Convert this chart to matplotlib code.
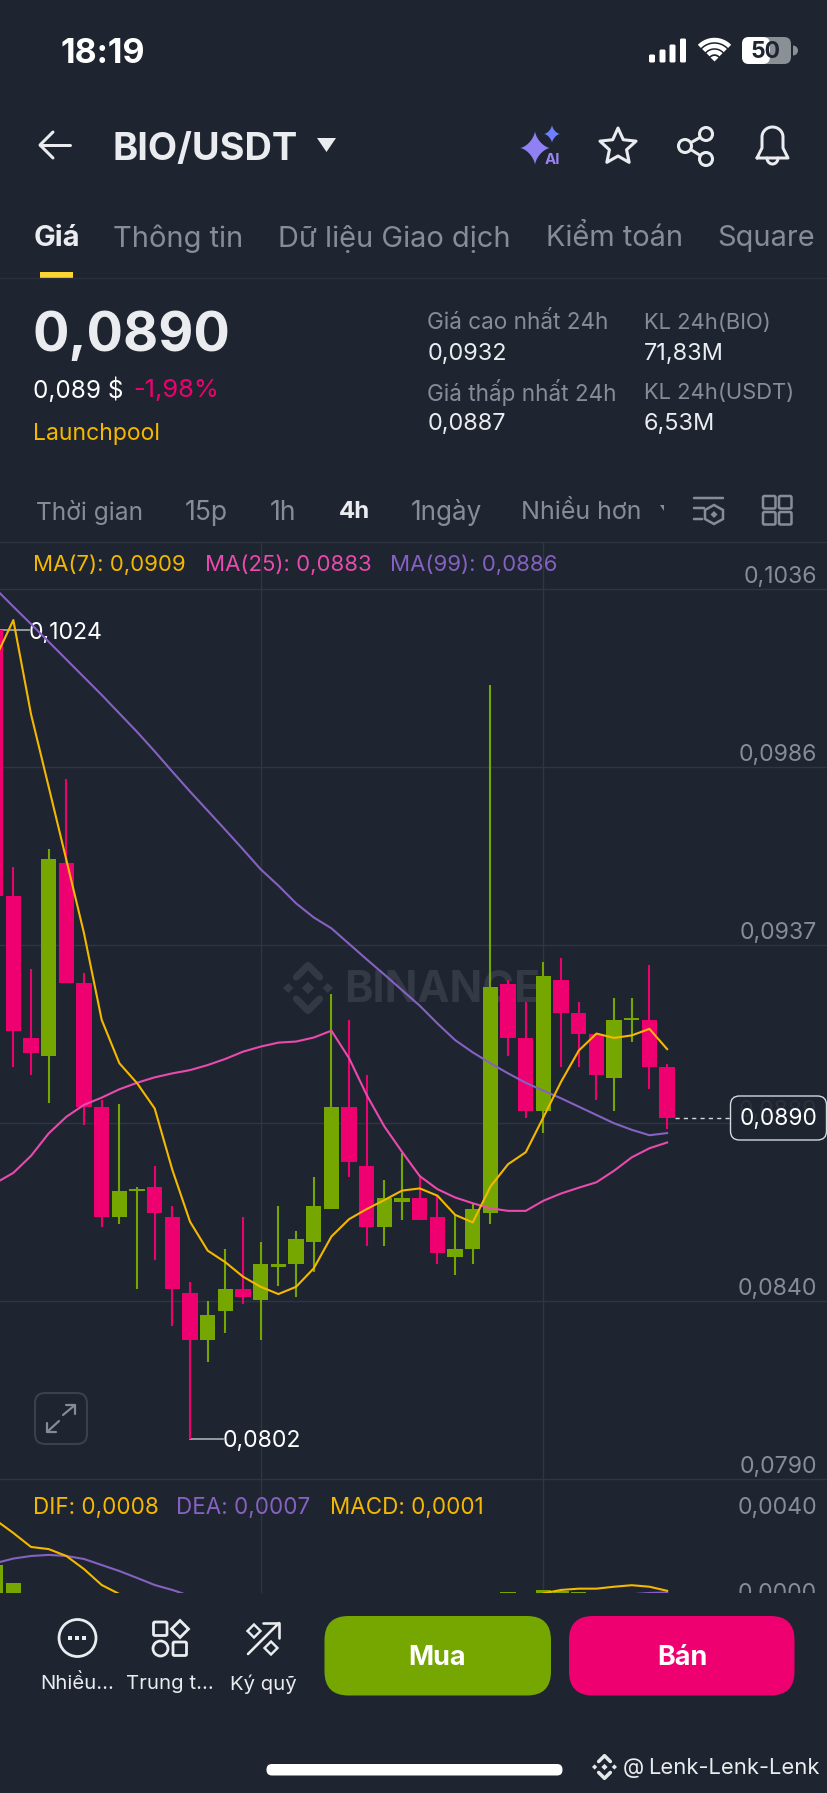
import numpy as np
import matplotlib
matplotlib.use("Agg")
import matplotlib.pyplot as plt
from matplotlib.patches import FancyBboxPatch, Polygon, Circle, Wedge

# candles, oldest first
opens = [0.10247, 0.09513, 0.09120, 0.09070, 0.09603, 0.09271, 0.08928, 0.08626, 0.08697, 0.08707,
         0.08626, 0.08414, 0.08285, 0.08364, 0.08425, 0.08395, 0.08486, 0.08496, 0.08556, 0.08647,
         0.08928, 0.08767, 0.08597, 0.08667, 0.08677, 0.08626, 0.08515, 0.08536, 0.08637, 0.09270,
         0.09120, 0.08918, 0.09280, 0.09190, 0.09130, 0.09009, 0.09170, 0.09170, 0.09039]
closes = [0.09513, 0.09140, 0.09079, 0.09614, 0.09271, 0.08928, 0.08626, 0.08696, 0.08702, 0.08637,
          0.08425, 0.08285, 0.08354, 0.08425, 0.08405, 0.08495, 0.08495, 0.08565, 0.08655, 0.08928,
          0.08778, 0.08597, 0.08677, 0.08677, 0.08617, 0.08526, 0.08536, 0.08646, 0.09260, 0.09120,
          0.08918, 0.09290, 0.09190, 0.09130, 0.09018, 0.09170, 0.09175, 0.09040, 0.08899]
highs = [0.10247, 0.09593, 0.09310, 0.09643, 0.09835, 0.09300, 0.08948, 0.08937, 0.08707, 0.08767,
         0.08655, 0.08445, 0.08394, 0.08536, 0.08626, 0.08555, 0.08655, 0.08585, 0.08736, 0.09241,
         0.09170, 0.09018, 0.08726, 0.08803, 0.08741, 0.08684, 0.08631, 0.08663, 0.10096, 0.09280,
         0.09219, 0.09331, 0.09341, 0.09219, 0.09130, 0.09230, 0.09230, 0.09321, 0.09048]
lows = [0.09513, 0.09040, 0.09018, 0.08939, 0.09271, 0.08878, 0.08597, 0.08606, 0.08425, 0.08506,
        0.08324, 0.08012, 0.08223, 0.08304, 0.08385, 0.08284, 0.08435, 0.08405, 0.08474, 0.08647,
        0.08736, 0.08546, 0.08546, 0.08617, 0.08617, 0.08495, 0.08466, 0.08495, 0.08606, 0.09069,
        0.08898, 0.08858, 0.09040, 0.09040, 0.08948, 0.08918, 0.09110, 0.08979, 0.08868]

ma7 = [0.10171, 0.10275, 0.10015, 0.09814, 0.09612, 0.09409, 0.09170, 0.09050, 0.08995, 0.08925,
       0.08755, 0.08612, 0.08532, 0.08500, 0.08460, 0.08432, 0.08412, 0.08432, 0.08483, 0.08571,
       0.08619, 0.08647, 0.08672, 0.08698, 0.08704, 0.08684, 0.08631, 0.08610, 0.08709, 0.08771,
       0.08804, 0.08901, 0.08999, 0.09085, 0.09132, 0.09120, 0.09127, 0.09145, 0.09089]
ma25 = [0.08719, 0.08747, 0.08794, 0.08856, 0.08902, 0.08935, 0.08955, 0.08978, 0.08996, 0.09011,
        0.09022, 0.09031, 0.09045, 0.09062, 0.09082, 0.09096, 0.09107, 0.09110, 0.09121, 0.09140,
        0.09064, 0.08962, 0.08875, 0.08805, 0.08738, 0.08702, 0.08679, 0.08663, 0.08649, 0.08642,
        0.08642, 0.08670, 0.08690, 0.08706, 0.08721, 0.08753, 0.08790, 0.08815, 0.08831]
ma99 = [0.10361, 0.10312, 0.10264, 0.10215, 0.10166, 0.10117, 0.10068, 0.10017, 0.09966, 0.09912,
        0.09856, 0.09801, 0.09748, 0.09695, 0.09641, 0.09586, 0.09541, 0.09492, 0.09453, 0.09423,
        0.09380, 0.09337, 0.09295, 0.09252, 0.09209, 0.09160, 0.09114, 0.09080, 0.09050, 0.09022,
        0.08996, 0.08974, 0.08953, 0.08930, 0.08907, 0.08884, 0.08866, 0.08851, 0.08857]

price_grid = [0.1036, 0.09868, 0.09376, 0.08884, 0.08392, 0.0790]
price_labels = ["0,1036", "0,0986", "0,0937", "0,0889", "0,0840", "0,0790"]
grid_candles = [15, 31]

# MACD panel, only the part above the panel's cut-off edge is readable
dif_left_idx = [0, 1, 2, 3, 4, 5, 6, 7, 8]
dif_left = [0.00395, 0.00335, 0.00270, 0.00260, 0.00228, 0.00167, 0.00093, 0.00051, -0.00014]
dea_left_idx = [0, 1, 2, 3, 4, 5, 6, 7, 8, 9, 10, 11, 12]
dea_left = [0.00195, 0.00216, 0.00228, 0.00233, 0.00228, 0.00214, 0.00186, 0.00158, 0.00126, 0.00093,
            0.00070, 0.00042, 0.00010]
dif_right_idx = [30, 31, 32, 33, 34, 35, 36, 37, 38]
dif_right = [0.00023, 0.00054, 0.00070, 0.00076, 0.00076, 0.00085, 0.00092, 0.00085, 0.00066]
dea_right_idx = [36, 37, 38]
dea_right = [0.00050, 0.00056, 0.00058]
hist_idx = [0, 1, 29, 31, 32, 33]
hist_val = [0.00186, 0.00101, 0.00060, 0.00072, 0.00066, 0.00059]
macd_ticks = [0.0040, 0.0]
macd_labels = ["0,0040", "0,0000"]

BG = "#1e2530"
GRID = "#2f3641"
GREEN = "#75a700"
RED = "#ee0070"
YELLOW = "#f5b800"
PINK = "#ea4aae"
PURPLE = "#8661c1"
GRAY = "#868d98"
WHITE = "#eaecef"
FONT = ["Inter", "Noto Sans", "DejaVu Sans"]

plt.rcParams["font.family"] = FONT
W, H = 828, 1793
fig = plt.figure(figsize=(W / 100, H / 100), dpi=100, facecolor=BG)


def px_axes(zorder):
    a = fig.add_axes([0, 0, 1, 1], facecolor="none", zorder=zorder)
    a.set_xlim(0, W)
    a.set_ylim(H, 0)
    a.axis("off")
    return a


ui = px_axes(0)
top = px_axes(5)


def label(x, y, s, size, color=WHITE, weight="normal", ha="left", ax=None):
    # va="center" sits a bit high for this font, push it down in proportion
    (ax or ui).text(x, y + 0.1 * size, s, fontsize=size * 0.72, color=color, fontweight=weight, ha=ha, va="center")


def rbox(x0, y0, x1, y1, r, ax=None, **kw):
    p = FancyBboxPatch((x0, y0), x1 - x0, y1 - y0, boxstyle=f"round,pad=0,rounding_size={r}", **kw)
    (ax or ui).add_patch(p)


def pline(xs, ys, color, lw=2.5):
    ui.plot(xs, ys, color=color, lw=lw * 0.72, solid_capstyle="round", solid_joinstyle="round")


def diamond(cx, cy, r, color, fill=True, lw=2.5):
    ui.add_patch(Polygon([(cx, cy - r), (cx + r, cy), (cx, cy + r), (cx - r, cy)], closed=True,
                         facecolor=color if fill else "none", edgecolor=color, lw=0 if fill else lw * 0.72))


def bnb_logo(cx, cy, r, color):
    diamond(cx, cy, r * 0.24, color)
    diamond(cx - r * 0.76, cy, r * 0.2, color)
    diamond(cx + r * 0.76, cy, r * 0.2, color)
    lw = r * 0.27
    pline([cx - r * 0.45, cx, cx + r * 0.45], [cy - r * 0.42, cy - r * 0.87, cy - r * 0.42], color, lw)
    pline([cx - r * 0.45, cx, cx + r * 0.45], [cy + r * 0.42, cy + r * 0.87, cy + r * 0.42], color, lw)


def sparkle(cx, cy, rx, ry, color):
    t = np.linspace(0, 2 * np.pi, 81)
    c, s = np.cos(t), np.sin(t)
    ui.add_patch(Polygon(np.c_[cx + rx * np.sign(c) * np.abs(c) ** 3, cy + ry * np.sign(s) * np.abs(s) ** 3],
                         closed=True, facecolor=color, lw=0))


# ---- status bar
label(61, 50.5, "18:19", 34, "#ffffff", "bold")
for bx, bh in zip([649, 659.5, 669.5, 680], [8, 13, 18, 24]):
    rbox(bx, 62.5 - bh, bx + 6, 62.5, 1.5, facecolor="#ffffff", lw=0)
for r in [9, 15, 21]:
    t = np.radians(np.linspace(-46, 46, 30))
    ui.plot(714.5 + r * np.sin(t), 61 - r * np.cos(t), color="#ffffff", lw=3.2, solid_capstyle="butt")
ui.add_patch(Wedge((714.5, 61.5), 5.5, 225, 315, facecolor="#ffffff", lw=0))
rbox(742, 37, 791, 64, 7, facecolor="#8b9097", lw=0)
rbox(742, 37, 770, 64, 7, facecolor="#ffffff", lw=0)
ui.add_patch(Wedge((793, 50.5), 5, -90, 90, facecolor="#8b9097", lw=0))
label(766, 50, "50", 23, "#1e2530", "bold", ha="center")

# ---- title row
pline([70, 40], [145, 145], WHITE, 3)
pline([53, 40, 53], [132, 145, 158], WHITE, 3)
label(113, 146, "BIO/USDT", 38, WHITE, "bold")
ui.add_patch(Polygon([(317, 138), (336, 138), (326.5, 152)], closed=True, facecolor=WHITE, lw=0))
sparkle(535, 148, 15, 17, "#8f80f3")
sparkle(552, 134, 8, 9, "#6f7fff")
label(552, 159, "AI", 15, "#9a85f5", "bold", ha="center")
t = np.pi / 2 + np.arange(10) * np.pi / 5
rad = np.where(np.arange(10) % 2 == 0, 19, 9)
ui.add_patch(Polygon(np.c_[618 + rad * np.cos(t), 147 - rad * np.sin(t)], closed=True, facecolor="none",
                     edgecolor=WHITE, lw=2.2, joinstyle="round"))
pline([706, 685, 706], [134, 146, 159], WHITE, 3)
for sx, sy in [(706, 134), (685, 146), (706, 159)]:
    ui.add_patch(Circle((sx, sy), 6.5, facecolor=BG, edgecolor=WHITE, lw=2.2, zorder=3))
bt = np.radians(np.linspace(180, 0, 30))
pline(np.r_[757, 762, 762 + 10.5 * (1 + np.cos(bt)), 783, 788, 757],
      np.r_[158, 148, 137 - 10 * np.sin(bt), 148, 158, 158], WHITE, 3)
pline(767 + 5.5 * (1 + np.cos(bt[::-1])), 158 + 6 * np.sin(bt), WHITE, 3)

# ---- tabs
for tx, s, c, w in zip([34, 113, 278, 546, 717],
                       ["Giá", "Thông tin", "Dữ liệu Giao dịch", "Kiểm toán", "Square"],
                       [WHITE, GRAY, GRAY, GRAY, GRAY], ["bold", "normal", "normal", "normal", "normal"]):
    label(tx, 236, s, 29, c, w)
ui.plot([0, W], [277.7, 277.7], color="#2a303b", lw=1)
ui.add_patch(plt.Rectangle((40, 271.5), 33, 6, facecolor="#fcd535", lw=0))

# ---- price block
label(33, 331, "0,0890", 54, WHITE, "bold")
label(33, 388, "0,089 $", 24.3, "#ffffff")
label(133, 388, "-1,98%", 25.5, RED)
label(33, 432, "Launchpool", 23, YELLOW)
for sx, sy, s, c, sz in [(427.5, 320.5, "Giá cao nhất 24h", GRAY, 22.5), (427.5, 351.5, "0,0932", WHITE, 23.5),
                         (427.5, 390.5, "Giá thấp nhất 24h", GRAY, 22.5), (427.5, 422, "0,0887", WHITE, 23.5),
                         (644, 320.5, "KL 24h(BIO)", GRAY, 22), (644, 351.5, "71,83M", WHITE, 23.5),
                         (644, 390.5, "KL 24h(USDT)", GRAY, 22), (644, 422, "6,53M", WHITE, 23.5)]:
    label(sx, sy, s, sz, c)

# ---- interval row
for tx, s, c, w, sz in zip([36, 185, 270, 339, 411, 521],
                           ["Thời gian", "15p", "1h", "4h", "1ngày", "Nhiều hơn"],
                           [GRAY, GRAY, GRAY, WHITE, GRAY, GRAY],
                           ["normal", "normal", "normal", "bold", "normal", "normal"],
                           [24.5, 26.5, 26.5, 24, 26, 25]):
    label(tx, 510, s, sz, c, w)
ui.add_patch(Polygon([(660, 505), (664, 505), (664, 511)], closed=True, facecolor=GRAY, lw=0))
pline([694, 723], [498, 498], GRAY, 2.5)
pline([694, 704], [508, 508], GRAY, 2.5)
pline([694, 702], [519, 519], GRAY, 2.5)
ui.add_patch(Polygon([(714, 505), (723, 510), (723, 519), (714, 524), (705, 519), (705, 510)], closed=True,
                     facecolor="none", edgecolor=GRAY, lw=1.8))
diamond(714, 514.5, 3.5, GRAY)
for gx, gy in [(763, 496), (779, 496), (763, 512), (779, 512)]:
    rbox(gx, gy, gx + 12.5, gy + 12.5, 1.5, facecolor="none", edgecolor=GRAY, lw=1.8)
ui.plot([0, W], [542, 542], color=GRID, lw=1)

# ---- watermark sits under the candles
bnb_logo(308, 988, 26, "#333a45")
label(344, 986, "BINANCE", 43, "#333a45", "bold")

# ---- price chart, index to pixel: x = -4.33 + 17.67 * i
PX_PER_CANDLE = 17.67
X0 = 4.33 / PX_PER_CANDLE
xlim = (X0, X0 + W / PX_PER_CANDLE)
PX_PER_PRICE = 178 / 0.00492
ax = fig.add_axes([0, 1 - 1481 / H, 1, (1481 - 542) / H], facecolor="none", zorder=2)
ax.set_xlim(xlim)
ax.set_ylim(0.0790 - 1.7 / PX_PER_PRICE, 0.0790 + (1479.3 - 542) / PX_PER_PRICE)
ax.axis("off")
for g, s in zip(price_grid, price_labels):
    ax.axhline(g, color=GRID, lw=1, zorder=0)
    ax.annotate(s, xy=(1 - 11 / W, g), xycoords=("axes fraction", "data"), xytext=(0, 1.5),
                textcoords="offset pixels", ha="right", va="bottom", fontsize=16.6, color=GRAY)
for g in grid_candles:
    ax.axvline(g, color=GRID, lw=1, zorder=0)

idx = np.arange(len(opens))
o, c_, h, l = map(np.array, (opens, closes, highs, lows))
colors = np.where(c_ >= o, GREEN, RED)
ax.vlines(idx, l, h, colors=colors, lw=1.5, zorder=2)
ax.bar(idx, np.maximum(np.abs(c_ - o), 0.00005), bottom=np.minimum(o, c_), width=0.868, color=colors, lw=0, zorder=2)
for ma, col in [(ma99, PURPLE), (ma25, PINK), (ma7, YELLOW)]:
    ax.plot(idx, ma, color=col, lw=1.5, zorder=3)

# high and low callouts: a flat leader and the value, the text sits a little under the leader
for i, s, ann in [(0, "0,1024", h[0]), (11, "0,0802", l[11])]:
    ax.plot([i, i + 33 / PX_PER_CANDLE], [ann, ann], color="#a9adb3", lw=1.2, zorder=1)
    ax.annotate(s, xy=(i, ann), xytext=(33, -2.5), textcoords="offset pixels", ha="left", va="center",
                fontsize=16.6, color="#ffffff", zorder=1, annotation_clip=False)
ax.hlines(closes[-1], 38.45, 41.55, colors="#d5d8dc", linestyles=(0, (3, 3)), lw=1, zorder=2)

# ---- MACD panel, cut off at the bottom bar
PX_PER_MACD = 86 / 0.004
mx = fig.add_axes([0, 1 - 1593 / H, 1, (1593 - 1481) / H], facecolor="none", zorder=2)
mx.set_xlim(xlim)
mx.set_ylim(12 / PX_PER_MACD, 124 / PX_PER_MACD)
mx.axis("off")
for g in grid_candles:
    mx.axvline(g, color=GRID, lw=1, zorder=0)
mx.bar(hist_idx, hist_val, width=0.868, color=GREEN, lw=0, zorder=2)
mx.plot(dea_left_idx, dea_left, color=PURPLE, lw=1.5, zorder=3)
mx.plot(dif_left_idx, dif_left, color=YELLOW, lw=1.5, zorder=3)
mx.plot(dea_right_idx, dea_right, color=PURPLE, lw=1.5, zorder=3)
mx.plot(dif_right_idx, dif_right, color=YELLOW, lw=1.5, zorder=3)
for g, s in zip(macd_ticks, macd_labels):
    mx.annotate(s, xy=(1 - 11 / W, g), xycoords=("axes fraction", "data"), xytext=(0, 0.5),
                textcoords="offset pixels", ha="right", va="bottom", fontsize=16.6, color=GRAY,
                clip_on=True)

# ---- indicator legends
for tx, s, col in [(33, "MA(7): 0,0909", YELLOW), (205, "MA(25): 0,0883", PINK), (390, "MA(99): 0,0886", PURPLE)]:
    label(tx, 563, s, 22.2, col, ax=top)
for tx, s, col in [(33, "DIF: 0,0008", YELLOW), (176, "DEA: 0,0007", PURPLE), (330, "MACD: 0,0001", YELLOW)]:
    label(tx, 1505.5, s, 22.4, col, ax=top)

# ---- last price tag and expand button
rbox(730.5, 1096, 826.5, 1140, 9, ax=top, facecolor=(0.118, 0.145, 0.188, 0.88), edgecolor="#d5d8dc", lw=1)
label(779, 1117, "0,0890", 22.7, "#ffffff", ha="center", ax=top)
rbox(35, 1393, 87, 1444, 10, ax=ui, facecolor="none", edgecolor="#3a414d", lw=1.5)
pline([63, 75], [1415, 1405], "#848b96", 2.2)
pline([66, 75, 75], [1405, 1405, 1414], "#848b96", 2.2)
pline([47, 59], [1432, 1421], "#848b96", 2.2)
pline([47, 47, 56], [1423, 1432, 1432], "#848b96", 2.2)

# ---- bottom bar
ui.add_patch(Circle((77.5, 1638), 18.5, facecolor="none", edgecolor=WHITE, lw=2))
for dx in [-7, 0, 7]:
    ui.add_patch(plt.Rectangle((77.5 + dx - 2, 1636), 4, 4, facecolor=WHITE, lw=0))
rbox(153.5, 1622, 167, 1635.5, 1.5, facecolor="none", edgecolor=WHITE, lw=2)
ui.add_patch(Polygon([(180, 1620.5), (188.5, 1629), (180, 1637.5), (171.5, 1629)], closed=True,
                     facecolor="none", edgecolor=WHITE, lw=2))
ui.add_patch(Circle((160.5, 1648.5), 7.5, facecolor="none", edgecolor=WHITE, lw=2))
rbox(173, 1642, 186.5, 1655.5, 1.5, facecolor="none", edgecolor=WHITE, lw=2)
pline([248, 279], [1654, 1623], WHITE, 2.6)
pline([263, 279, 279], [1623, 1623, 1638], WHITE, 2.6)
diamond(254, 1631, 6.5, WHITE, fill=False, lw=2.4)
diamond(271, 1648, 6.5, WHITE, fill=False, lw=2.4)
for tx, s in [(77, "Nhiều..."), (170, "Trung t..."), (263, "Ký quỹ")]:
    label(tx, 1682, s, 20.3, WHITE, ha="center")
rbox(324.5, 1616, 551, 1695.5, 24, facecolor=GREEN, lw=0)
rbox(569, 1616, 794.5, 1695.5, 24, facecolor=RED, lw=0)
label(437.5, 1655, "Mua", 27, "#ffffff", "bold", ha="center")
label(682, 1655, "Bán", 27, "#ffffff", "bold", ha="center")
rbox(266.5, 1764, 562.5, 1775.5, 5.5, facecolor="#ffffff", lw=0)
bnb_logo(604.5, 1767, 13, "#e6e8ea")
label(623, 1766, "@", 22, WHITE)
label(648, 1766, "Lenk-Lenk-Lenk", 22, WHITE)

fig.savefig("out.png", dpi=100, facecolor=BG)
